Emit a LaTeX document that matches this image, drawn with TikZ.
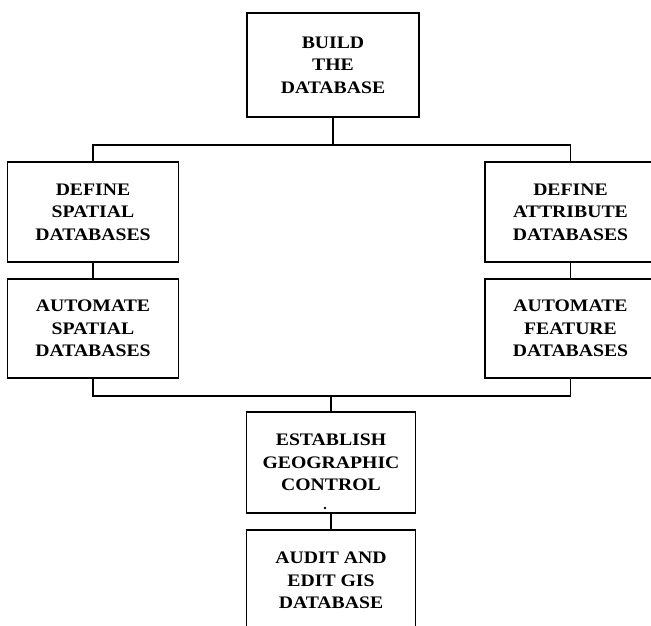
\documentclass[tikz,border=0pt]{standalone}
\usepackage{fontspec}
\setmainfont{Liberation Serif}[FakeStretch=1.12]
\begin{document}
\begin{tikzpicture}[x=1pt,y=1pt,
  stagebox/.style={draw=black, line width=1.8pt, fill=white, inner sep=0pt,
    align=center, font=\fontsize{17.6}{22.5}\selectfont\bfseries},
  link/.style={draw=black, line width=1.6pt}]
  \useasboundingbox (0,0) rectangle (651,626);
  \clip (0,0) rectangle (651,626);

  % stages of building the database
  \node[stagebox, minimum width=172pt, minimum height=104pt] (build) at (333,561)
    {BUILD\\THE\\DATABASE};
  \node[stagebox, minimum width=171pt, minimum height=100pt] (defsp) at (93,414)
    {DEFINE\\SPATIAL\\DATABASES};
  \node[stagebox, minimum width=171pt, minimum height=99pt] (autosp) at (93,297.5)
    {AUTOMATE\\SPATIAL\\DATABASES};
  \node[stagebox, minimum width=171pt, minimum height=100pt] (defat) at (570.5,414)
    {DEFINE\\ATTRIBUTE\\DATABASES};
  \node[stagebox, minimum width=171pt, minimum height=99pt] (autofe) at (570.5,297.5)
    {AUTOMATE\\FEATURE\\DATABASES};
  \node[stagebox, minimum width=169pt, minimum height=101pt] (geoctl) at (331,163.5)
    {ESTABLISH\\GEOGRAPHIC\\CONTROL};
  \node[stagebox, minimum width=169pt, minimum height=101pt] (audit) at (331,45.5)
    {AUDIT AND\\EDIT GIS\\DATABASE};

  % small mark inside the control box
  \fill (325,118) circle (1.4pt);

  % branching bus lines
  \coordinate (topbus) at (0,481);
  \coordinate (lowbus) at (0,230);

  \draw[link] (build.south) -- (build.south |- topbus);
  \draw[link] (defsp.north) -- (defsp.north |- topbus)
    -- (defat.north |- topbus) -- (defat.north);
  \draw[link] (defsp.south) -- (autosp.north);
  \draw[link] (defat.south) -- (autofe.north);
  \draw[link] (autosp.south) -- (autosp.south |- lowbus)
    -- (autofe.south |- lowbus) -- (autofe.south);
  \draw[link] (geoctl.north |- lowbus) -- (geoctl.north);
  \draw[link] (geoctl.south) -- (audit.north);
\end{tikzpicture}
\end{document}
